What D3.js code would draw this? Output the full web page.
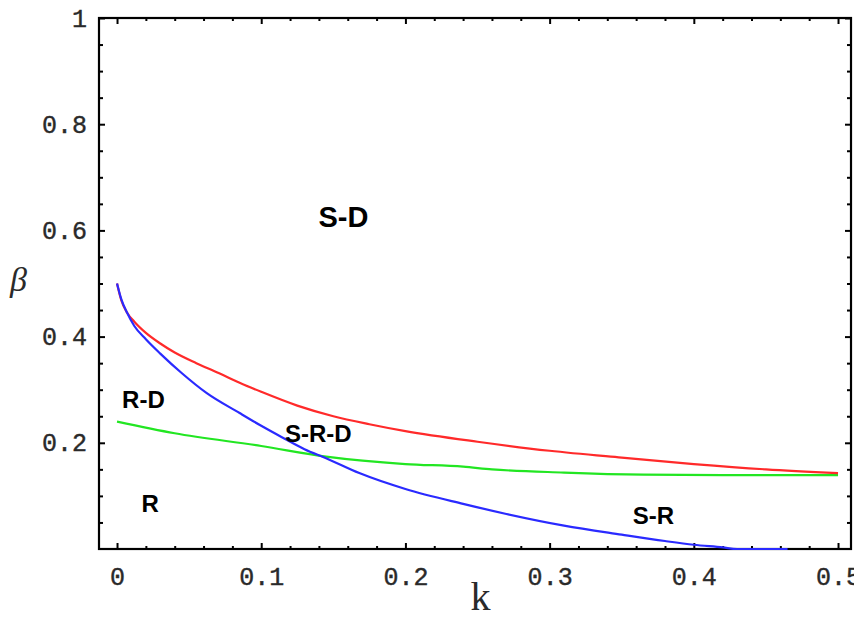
<!DOCTYPE html>
<html>
<head>
<meta charset="utf-8">
<script src="https://cdn.jsdelivr.net/npm/d3@7/dist/d3.min.js"></script>
<style>
  html, body { margin: 0; padding: 0; background: #fff; }
  svg { display: block; }
</style>
</head>
<body>
<svg id="chart" width="854" height="618"></svg>
<script>
// ---- data ----
const redK   = [0, 0.003, 0.007, 0.012, 0.02, 0.03, 0.04, 0.055, 0.07, 0.085, 0.1, 0.125, 0.15, 0.175, 0.2, 0.25, 0.3, 0.35, 0.4, 0.45, 0.5];
const redB   = [0.50, 0.468, 0.445, 0.428, 0.407, 0.387, 0.370, 0.350, 0.332, 0.313, 0.296, 0.270, 0.250, 0.235, 0.222, 0.202, 0.185, 0.172, 0.160, 0.150, 0.143];

const blueK  = [0, 0.003, 0.007, 0.012, 0.02, 0.03, 0.045, 0.062, 0.085, 0.1, 0.114, 0.13, 0.145, 0.168, 0.2, 0.24, 0.27, 0.31, 0.35, 0.38, 0.40, 0.42, 0.43, 0.465];
const blueB  = [0.50, 0.47, 0.445, 0.42, 0.395, 0.368, 0.331, 0.294, 0.256, 0.232, 0.211, 0.188, 0.171, 0.143, 0.113, 0.085, 0.066, 0.044, 0.027, 0.015, 0.008, 0.003, 0, 0];

const greenK = [0, 0.04, 0.1, 0.145, 0.2, 0.24, 0.26, 0.31, 0.365, 0.42, 0.5];
const greenB = [0.240, 0.218, 0.194, 0.174, 0.160, 0.155, 0.150, 0.144, 0.140, 0.139, 0.139];

const xTickLabels = ["0", "0.1", "0.2", "0.3", "0.4", "0.5"];
const yTickLabels = ["0.2", "0.4", "0.6", "0.8", "1"];

const regionNames = ["S-D", "R-D", "S-R-D", "R", "S-R"];
const regionK     = [0.157, 0.0035, 0.1165, 0.017, 0.3576];
const regionB     = [0.606, 0.2655, 0.202, 0.070, 0.048];

// ---- layout ----
const svg = d3.select("#chart");
const x = d3.scaleLinear().domain([-0.0125, 0.509]).range([99, 851]);
const y = d3.scaleLinear().domain([0, 1]).range([549, 18]);

const xMajor = xTickLabels.map(Number);
const yMajor = yTickLabels.map(Number);
const xMinor = d3.range(0, 0.5001, 0.02).filter(v => Math.abs(v*10 - Math.round(v*10)) > 1e-6);
const yMinor = d3.range(0.05, 1, 0.05).filter(v => Math.abs(v*5 - Math.round(v*5)) > 1e-6);

const tickFont = "'Liberation Mono', 'DejaVu Sans Mono', monospace";

function styleAxis(g) {
  g.select(".domain").remove();
  g.selectAll(".tick line").attr("stroke", "#000").attr("stroke-width", 2);
  g.selectAll(".tick text").attr("font-family", tickFont).attr("font-size", 25)
    .attr("fill", "#2a2a2a").attr("stroke", "#2a2a2a").attr("stroke-width", 0.4);
}

// bottom
svg.append("g").attr("transform", `translate(0,${y(0)})`)
  .call(d3.axisBottom(x).tickValues(xMajor).tickFormat((d, i) => xTickLabels[i]).tickSize(-6).tickSizeOuter(0).tickPadding(18))
  .call(styleAxis);
svg.append("g").attr("transform", `translate(0,${y(0)})`)
  .call(d3.axisBottom(x).tickValues(xMinor).tickFormat("").tickSize(-3).tickSizeOuter(0))
  .call(styleAxis);
// top
svg.append("g").attr("transform", `translate(0,${y.range()[1]})`)
  .call(d3.axisTop(x).tickValues(xMajor).tickFormat("").tickSize(-6).tickSizeOuter(0))
  .call(styleAxis);
svg.append("g").attr("transform", `translate(0,${y.range()[1]})`)
  .call(d3.axisTop(x).tickValues(xMinor).tickFormat("").tickSize(-3).tickSizeOuter(0))
  .call(styleAxis);
// left
svg.append("g").attr("transform", `translate(${x.range()[0]},0)`)
  .call(d3.axisLeft(y).tickValues(yMajor).tickFormat((d, i) => yTickLabels[i]).tickSize(-6).tickSizeOuter(0).tickPadding(12))
  .call(styleAxis);
svg.append("g").attr("transform", `translate(${x.range()[0]},0)`)
  .call(d3.axisLeft(y).tickValues(yMinor).tickFormat("").tickSize(-4).tickSizeOuter(0))
  .call(styleAxis);
// right
svg.append("g").attr("transform", `translate(${x.range()[1]},0)`)
  .call(d3.axisRight(y).tickValues(yMajor).tickFormat("").tickSize(-6).tickSizeOuter(0))
  .call(styleAxis);
svg.append("g").attr("transform", `translate(${x.range()[1]},0)`)
  .call(d3.axisRight(y).tickValues(yMinor).tickFormat("").tickSize(-4).tickSizeOuter(0))
  .call(styleAxis);

// frame
svg.append("rect")
  .attr("x", x.range()[0]).attr("y", y.range()[1])
  .attr("width", x.range()[1] - x.range()[0])
  .attr("height", y.range()[0] - y.range()[1])
  .attr("fill", "none").attr("stroke", "#000").attr("stroke-width", 2.2);

// curves
const line = d3.line().x(d => x(d[0])).y(d => y(d[1])).curve(d3.curveMonotoneX);
const series = [
  { k: greenK, b: greenB, color: "#22e622" },
  { k: redK,   b: redB,   color: "#ff2a2a" },
  { k: blueK,  b: blueB,  color: "#2a2aff" }
];
series.forEach(s => {
  svg.append("path")
    .datum(s.k.map((k, i) => [k, s.b[i]]))
    .attr("d", line)
    .attr("fill", "none")
    .attr("stroke", s.color)
    .attr("stroke-width", 2.2);
});

// region labels
regionNames.forEach((name, i) => {
  svg.append("text")
    .attr("x", x(regionK[i])).attr("y", y(regionB[i]))
    .attr("text-anchor", i === 0 ? "middle" : "start")
    .attr("font-family", "'Liberation Sans', Arial, sans-serif")
    .attr("font-weight", "bold")
    .attr("font-size", i === 0 ? 29 : 24)
    .attr("fill", "#000")
    .text(name);
});

// axis titles
svg.append("text")
  .attr("x", 10).attr("y", 291)
  .attr("font-family", "'Liberation Serif', 'Times New Roman', serif")
  .attr("font-style", "italic")
  .attr("font-size", 34)
  .attr("fill", "#2a2a2a")
  .text("β");
svg.append("text")
  .attr("x", (x(0.2) + x(0.3)) / 2 + 3).attr("y", 610)
  .attr("text-anchor", "middle")
  .attr("font-family", "'Liberation Serif', 'Times New Roman', serif")
  .attr("font-size", 40)
  .attr("fill", "#2a2a2a")
  .text("k");
</script>
</body>
</html>
